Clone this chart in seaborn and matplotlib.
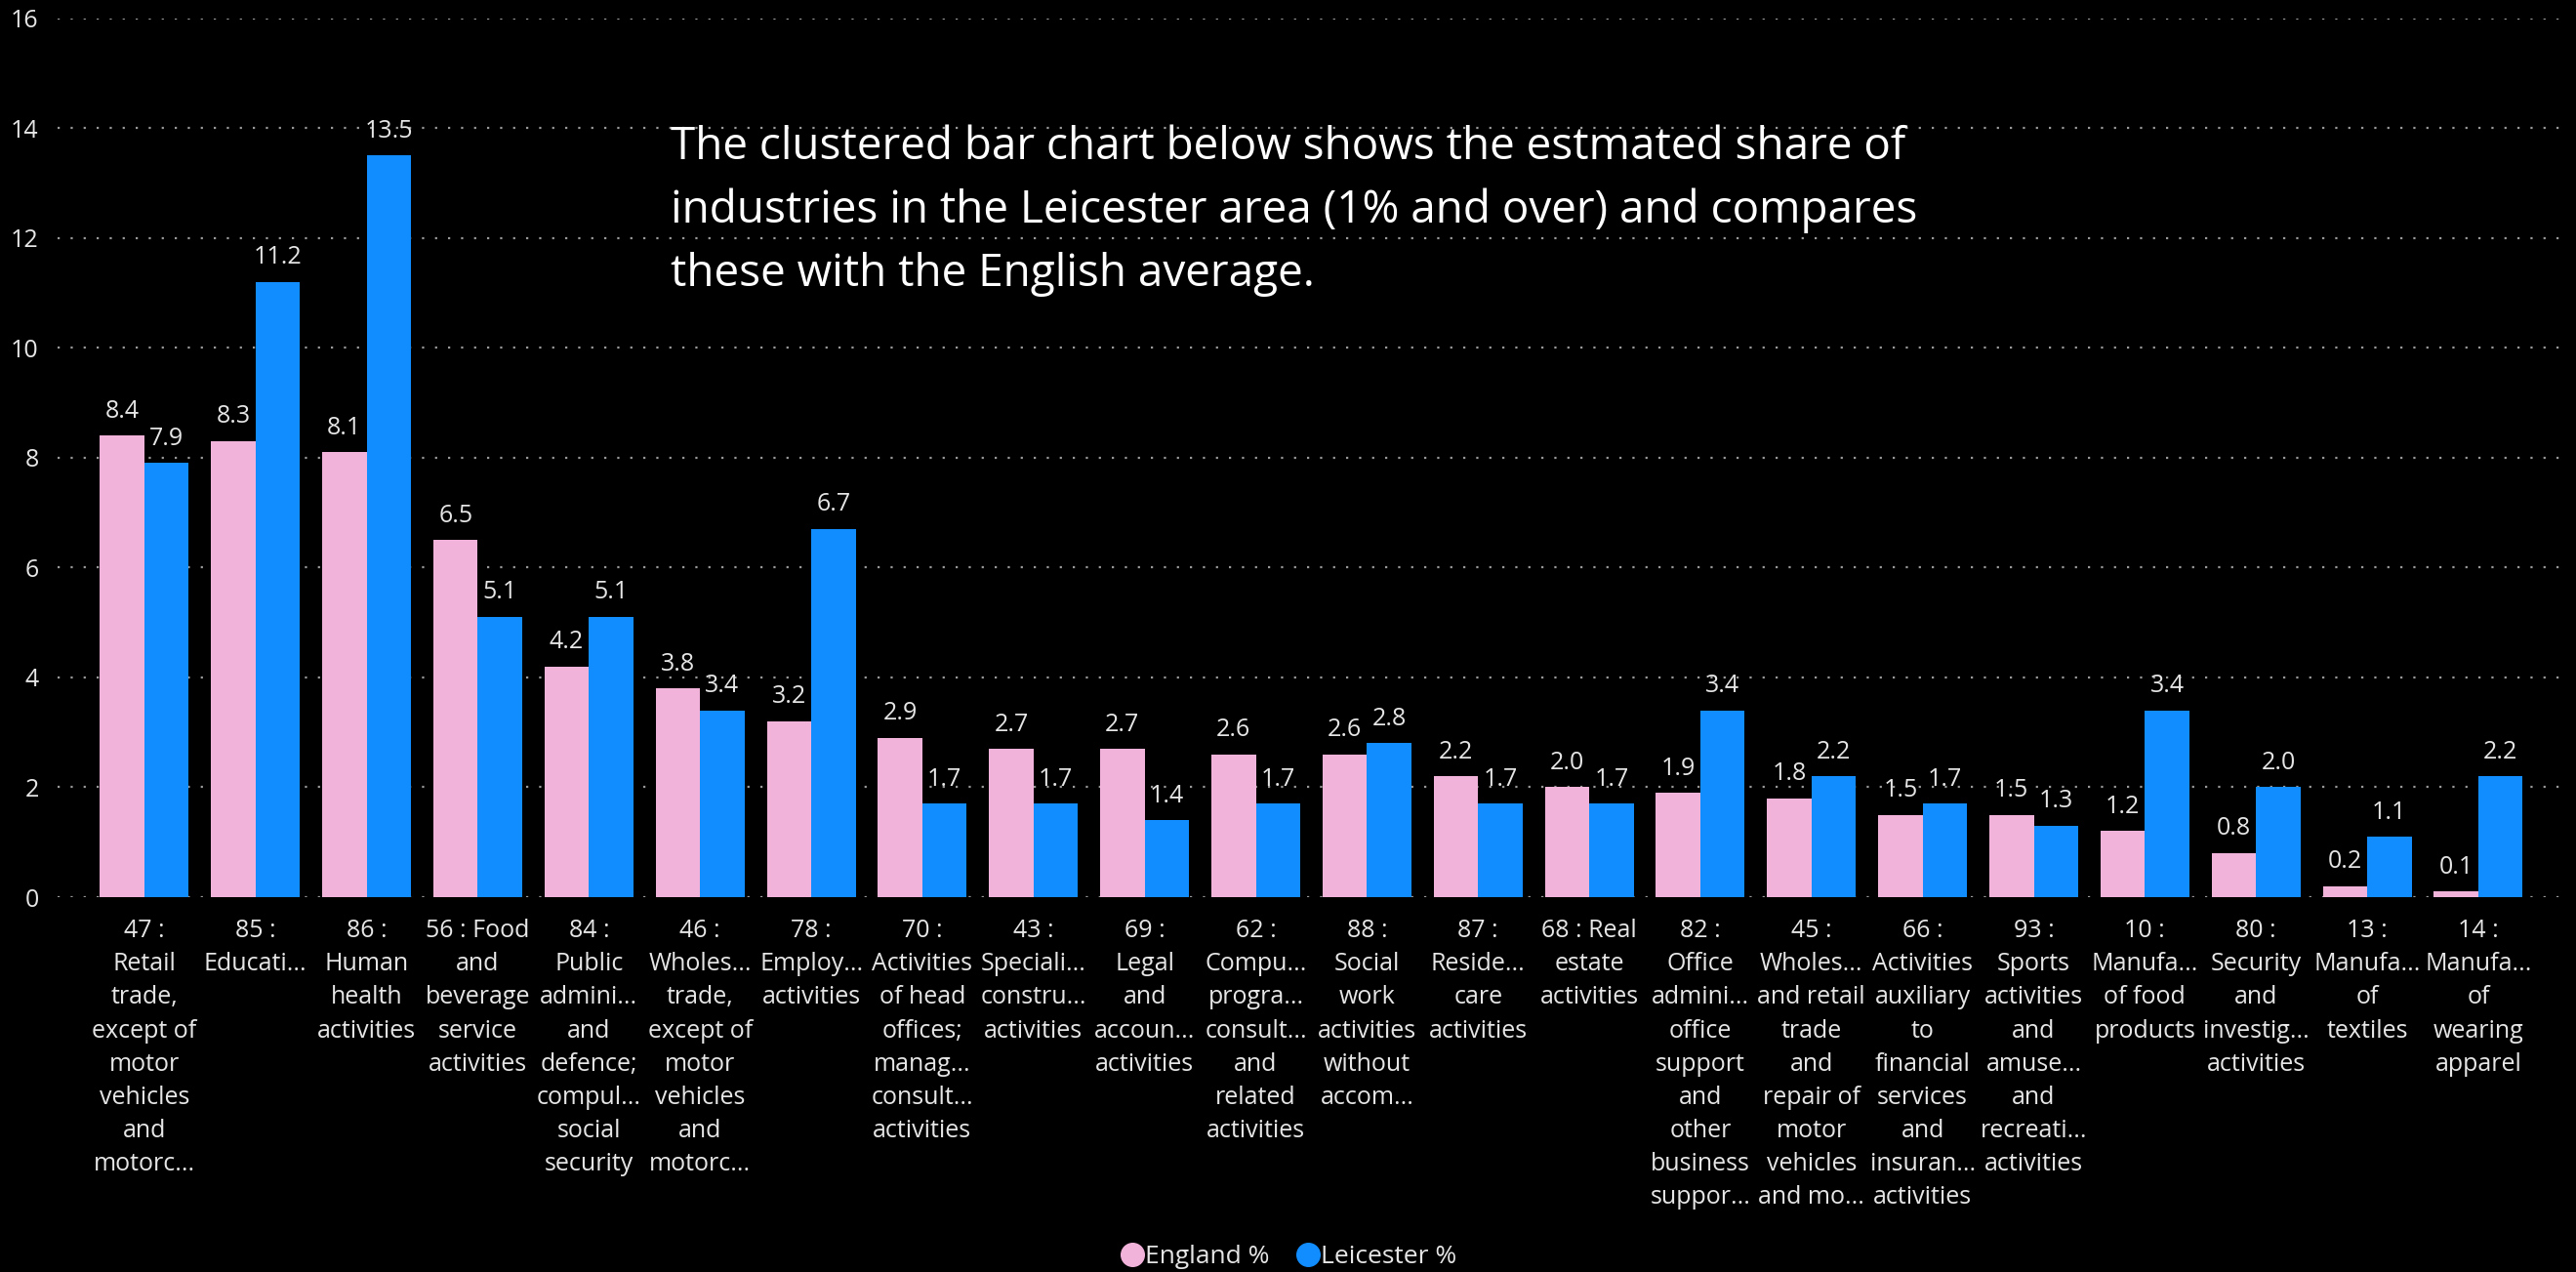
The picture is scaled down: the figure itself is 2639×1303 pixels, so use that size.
import matplotlib
matplotlib.use("Agg")
import matplotlib.pyplot as plt
from matplotlib.lines import Line2D
import seaborn as sns
import pandas as pd

categories = [
    "47 :\nRetail\ntrade,\nexcept of\nmotor\nvehicles\nand\nmotorc...",
    "85 :\nEducati...",
    "86 :\nHuman\nhealth\nactivities",
    "56 : Food\nand\nbeverage\nservice\nactivities",
    "84 :\nPublic\nadmini...\nand\ndefence;\ncompul...\nsocial\nsecurity",
    "46 :\nWholes...\ntrade,\nexcept of\nmotor\nvehicles\nand\nmotorc...",
    "78 :\nEmploy...\nactivities",
    "70 :\nActivities\nof head\noffices;\nmanag...\nconsult...\nactivities",
    "43 :\nSpeciali...\nconstru...\nactivities",
    "69 :\nLegal\nand\naccoun...\nactivities",
    "62 :\nCompu...\nprogra...\nconsult...\nand\nrelated\nactivities",
    "88 :\nSocial\nwork\nactivities\nwithout\naccom...",
    "87 :\nReside...\ncare\nactivities",
    "68 : Real\nestate\nactivities",
    "82 :\nOffice\nadmini...\noffice\nsupport\nand\nother\nbusiness\nsuppor...",
    "45 :\nWholes...\nand retail\ntrade\nand\nrepair of\nmotor\nvehicles\nand mo...",
    "66 :\nActivities\nauxiliary\nto\nfinancial\nservices\nand\ninsuran...\nactivities",
    "93 :\nSports\nactivities\nand\namuse...\nand\nrecreati...\nactivities",
    "10 :\nManufa...\nof food\nproducts",
    "80 :\nSecurity\nand\ninvestig...\nactivities",
    "13 :\nManufa...\nof\ntextiles",
    "14 :\nManufa...\nof\nwearing\napparel",
]
england = [8.4, 8.3, 8.1, 6.5, 4.2, 3.8, 3.2, 2.9, 2.7, 2.7, 2.6,
           2.6, 2.2, 2.0, 1.9, 1.8, 1.5, 1.5, 1.2, 0.8, 0.2, 0.1]
leicester = [7.9, 11.2, 13.5, 5.1, 5.1, 3.4, 6.7, 1.7, 1.7, 1.4, 1.7,
             2.8, 1.7, 1.7, 3.4, 2.2, 1.7, 1.3, 3.4, 2.0, 1.1, 2.2]
series = ["England %", "Leicester %"]
colors = ["#F2B3DB", "#118DFF"]

df = pd.DataFrame({
    "industry": categories * 2,
    "value": england + leicester,
    "series": [series[0]] * len(categories) + [series[1]] * len(categories),
})

sns.set_style("dark")
plt.rcParams["font.family"] = ["Open Sans", "DejaVu Sans"]
txt = "#E6E6E6"

fig = plt.figure(figsize=(26.39, 13.03), dpi=100, facecolor="black")
ax = fig.add_axes([0.0224, 0.2947, 0.9742, 0.6911])
ax.set_facecolor("black")

sns.barplot(data=df, x="industry", y="value", hue="series", palette=colors,
            width=0.8, saturation=1, linewidth=0, edgecolor="none",
            ax=ax, legend=False)

for c in ax.containers:
    ax.bar_label(c, fmt="%.1f", padding=9, color=txt, fontsize=18)

ax.set_ylim(0, 16)
ax.set_xlim(-0.78, 21.8)
ax.set_yticks(range(0, 17, 2))
ax.yaxis.grid(True, linestyle=(0, (1, 5)), color="#9A9A9A", linewidth=1.6)
ax.xaxis.grid(False)
ax.set_axisbelow(True)
for s in ax.spines.values():
    s.set_visible(False)
ax.tick_params(axis="both", length=0, colors=txt, labelsize=18)
ax.tick_params(axis="x", pad=16)
ax.tick_params(axis="y", pad=14)
for lab in ax.get_xticklabels():
    lab.set_linespacing(1.48)
    lab.set_ha("center")
ax.set_xlabel("")
ax.set_ylabel("")

fig.text(0.2603, 0.902,
         "The clustered bar chart below shows the estmated share of\n"
         "industries in the Leicester area (1% and over) and compares\n"
         "these with the English average.",
         color="white", fontsize=33, va="top", ha="left", linespacing=1.54)

handles = [Line2D([], [], marker="o", linestyle="", markersize=17,
                  markerfacecolor=col, markeredgecolor=col) for col in colors]
fig.legend(handles, series, loc="center", bbox_to_anchor=(0.5, 0.012),
           ncol=2, frameon=False, fontsize=19, labelcolor=txt,
           handletextpad=0.0, columnspacing=1.0, handlelength=1.0)

plt.savefig("out.png", dpi=100, facecolor="black")
